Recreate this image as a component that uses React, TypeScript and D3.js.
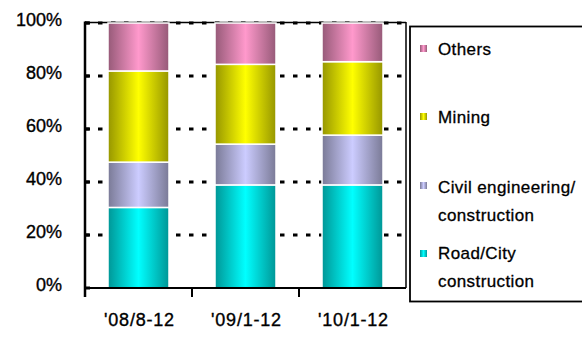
import React from "react";
import * as d3 from "d3";

const categories = ["'08/8-12", "'09/1-12", "'10/1-12"];
const seriesNames = ["Road/City construction", "Civil engineering/ construction", "Mining", "Others"];
const roadCity = [30.4, 38.9, 38.9];
const civilEng = [17.1, 15.4, 18.8];
const mining = [34.4, 30.1, 27.7];
const others = [18.1, 15.6, 14.6];
const yTicks = [0, 20, 40, 60, 80, 100];
const legendLines = [
  { key: "Others", lines: ["Others"] },
  { key: "Mining", lines: ["Mining"] },
  { key: "Civil", lines: ["Civil engineering/", "construction"] },
  { key: "Road", lines: ["Road/City", "construction"] },
];

const colors = [
  { c: "#00FFFF", e: "#009696" },
  { c: "#CCCCFF", e: "#7A7A96" },
  { c: "#FFFF00", e: "#969600" },
  { c: "#FF99CC", e: "#965A78" },
];
const legendColorIdx = [3, 2, 1, 0];

export default function App() {
  const W = 582, H = 339;
  const left = 85, right = 406, top = 23, bottom = 288;
  const x = d3.scaleBand<string>().domain(categories).range([left, right]).paddingInner(0.43).paddingOuter(0.215);
  const y = d3.scaleLinear().domain([0, 100]).range([bottom, top]);
  const table = categories.map((c, i) => ({ cat: c, s0: roadCity[i], s1: civilEng[i], s2: mining[i], s3: others[i] }));
  const stack = d3.stack<any>().keys(["s0", "s1", "s2", "s3"])(table);
  const font = "'Liberation Sans', Arial, sans-serif";
  const legendBaselines = [[55], [123], [193, 221], [259, 287]];
  const markerY = [45, 113, 182, 250];

  const bandEdges = [0, 1, 2, 3].map((i) => left + ((right - left) / 3) * i);

  return (
    <svg width={W} height={H} style={{ position: "absolute", left: 0, top: 0 }} fontFamily={font}>
      <defs>
        {colors.map((c, i) => (
          <linearGradient key={i} id={`g${i}`} x1="0" x2="1" y1="0" y2="0">
            <stop offset="0" stopColor={c.e} />
            <stop offset="0.5" stopColor={c.c} />
            <stop offset="1" stopColor={c.e} />
          </linearGradient>
        ))}
      </defs>
      <rect width={W} height={H} fill="#fff" />
      {yTicks.filter((t) => t > 0).map((t) => (
        <line key={t} x1={left} x2={right} y1={y(t)} y2={y(t)} stroke="#000" strokeWidth={3} strokeDasharray="4.5 8.5" />
      ))}
      <line x1={left} x2={right} y1={top - 0.5} y2={top - 0.5} stroke="#000" strokeWidth={1.5} />
      <line x1={right} x2={right} y1={top - 1} y2={bottom} stroke="#000" strokeWidth={1.5} />
      {stack.map((layer, si) =>
        layer.map((d, i) => (
          <rect
            key={`${si}-${i}`}
            x={x(categories[i])}
            width={x.bandwidth()}
            y={y(d[1])}
            height={y(d[0]) - y(d[1])}
            fill={`url(#g${si})`}
            stroke="#fff"
            strokeWidth={1.5}
          />
        ))
      )}
      <line x1={left} x2={right} y1={bottom} y2={bottom} stroke="#000" strokeWidth={2} />
      <line x1={left} x2={left} y1={top - 1.5} y2={bottom + 9} stroke="#000" strokeWidth={2.5} />
      {bandEdges.slice(1, 3).map((bx, i) => (
        <line key={i} x1={bx} x2={bx} y1={bottom} y2={bottom + 9} stroke="#000" strokeWidth={2} />
      ))}
      {yTicks.map((t) => (
        <line key={t} x1={left} x2={left + 5} y1={y(t)} y2={y(t)} stroke="#000" strokeWidth={3} />
      ))}
      {yTicks.map((t) => (
        <text key={t} x={62} y={y(t) + 3} textAnchor="end" fontSize={18} fill="#000" stroke="#000" strokeWidth={0.35}>{`${t}%`}</text>
      ))}
      {categories.map((c) => (
        <text key={c} x={(x(c) as number) + x.bandwidth() / 2 + 1} y={326} textAnchor="middle" fontSize={18} letterSpacing={0.8} fill="#000" stroke="#000" strokeWidth={0.35}>{c}</text>
      ))}
      <rect x={410} y={26.5} width={180} height={275} fill="#fff" stroke="#000" strokeWidth={1.8} />
      {legendLines.map((l, i) => (
        <g key={l.key}>
          <rect x={420} y={markerY[i]} width={7} height={7} fill={`url(#g${legendColorIdx[i]})`} />
          {l.lines.map((s, j) => (
            <text key={j} x={438} y={legendBaselines[i][j]} fontSize={17} letterSpacing={0.4} fill="#000" stroke="#000" strokeWidth={0.3}>{s}</text>
          ))}
        </g>
      ))}
    </svg>
  );
}
